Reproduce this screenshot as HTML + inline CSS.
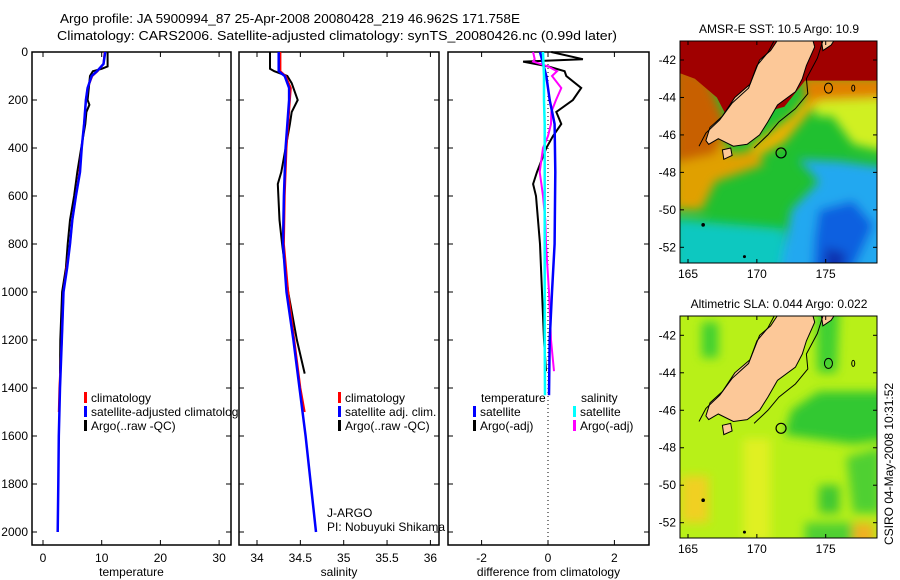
<!DOCTYPE html>
<html><head><meta charset="utf-8"><style>
html,body{margin:0;padding:0;background:#fff;}
svg{display:block;font-family:"Liberation Sans",sans-serif;}
</style></head><body>
<svg id="fig" width="900" height="580" viewBox="0 0 900 580">
<text x="290" y="23" font-size="13" text-anchor="middle" textLength="460" lengthAdjust="spacingAndGlyphs">Argo profile: JA 5900994_87 25-Apr-2008 20080428_219 46.962S 171.758E</text>
<text x="337" y="40" font-size="13" text-anchor="middle" textLength="560" lengthAdjust="spacingAndGlyphs">Climatology: CARS2006. Satellite-adjusted climatology: synTS_20080426.nc (0.99d later)</text>
<g id="p1"></g>
<g id="p2"></g>
<g id="p3"></g>
<g id="m1"></g>
<g id="m2"></g>
<text transform="translate(893,545) rotate(-90)" font-size="12">CSIRO 04-May-2008 10:31:52</text>
</svg>
<script>
// ---- data ----
const tClimDepth=[0,50,80,100,150,200,300,400,500,600,700,800,900,1000,1200,1400,1500];
const tClim=[10.5,10.3,9.3,8.4,7.6,7.3,7.0,6.6,6.2,5.6,5.0,4.6,4.0,3.5,3.2,2.8,2.7];
const tSatDepth=[0,50,80,100,150,200,300,400,500,600,700,800,900,1000,1200,1400,1600,1800,2000];
const tSat=[10.6,10.3,9.2,8.3,7.6,7.3,7.0,6.6,6.3,5.6,5.0,4.6,4.1,3.5,3.2,2.9,2.7,2.6,2.5];
const tArgoDepth=[0,60,70,80,100,150,200,220,250,300,400,500,600,700,800,900,1000,1100,1200,1340];
const tArgo=[11.0,11.0,10.0,8.5,8.0,7.8,7.6,7.9,7.4,7.2,6.5,5.85,5.3,4.6,4.2,3.9,3.25,3.1,2.95,2.9];
const sClimDepth=[0,80,100,150,200,400,600,800,1000,1200,1400,1500];
const sClim=[34.27,34.27,34.33,34.39,34.38,34.34,34.32,34.31,34.36,34.43,34.50,34.55];
const sSatDepth=[0,80,100,150,200,400,600,800,1000,1200,1400,1600,1800,2000];
const sSat=[34.25,34.25,34.32,34.37,34.37,34.33,34.31,34.30,34.34,34.42,34.49,34.56,34.62,34.68];
const sArgoDepth=[0,70,80,100,130,200,250,300,400,500,550,700,800,1000,1200,1340];
const sArgo=[34.15,34.15,34.2,34.35,34.4,34.47,34.4,34.38,34.33,34.28,34.24,34.26,34.29,34.36,34.46,34.55];
const dDepth=[0,30,40,60,80,100,150,200,250,300,350,400,500,550,600,700,800,1000,1200,1330];
const dTempArgo=[0.1,1.05,-0.75,0,0.5,0.55,1.0,0.75,0.25,0.4,0.15,-0.05,-0.33,-0.45,-0.36,-0.3,-0.24,-0.18,-0.12,-0.06];
const dSalArgo=[-0.45,-0.4,-0.45,0,0.27,0.12,0.4,0.24,0.1,0.09,0.0,-0.15,-0.25,-0.2,-0.15,-0.08,-0.06,0.03,0.09,0.18];
const dSatDepth=[0,100,200,300,500,800,1000,1200,1430];
const dTempSat=[-0.24,-0.05,0.05,0.2,0.22,0.2,0.12,0.05,0.03];
const dSalSat=[-0.15,-0.12,-0.12,-0.1,-0.1,-0.1,-0.1,-0.1,-0.09];
const depthTicks=[0,200,400,600,800,1000,1200,1400,1600,1800,2000];
const tTicks=[0,10,20,30];
const sTicks=[34,34.5,35,35.5,36];
const dTicks=[-2,0,2];
const latTicks=[-42,-44,-46,-48,-50,-52];
const lonTicks=[165,170,175];

const NS='http://www.w3.org/2000/svg';
function mk(parent,tag,attrs,name,text){const e=document.createElementNS(NS,tag);for(const k in attrs)e.setAttribute(k,attrs[k]);


if(text!==undefined)e.textContent=text;parent.appendChild(e);return e;}
const yD=d=>52+d*0.24;
function panel(g,x0,x1,xs,ticks,label,showY){
  mk(g,'rect',{x:x0,y:52,width:x1-x0,height:493,fill:'#fff',stroke:'#000','stroke-width':1.5},'panel-frame');
  ticks.forEach(t=>{const x=xs(t);
    mk(g,'line',{x1:x,x2:x,y1:545,y2:540,stroke:'#000'},'x-tick');
    mk(g,'line',{x1:x,x2:x,y1:52,y2:57,stroke:'#000'},'x-tick');
    mk(g,'text',{x:x,y:562,'font-size':12,'text-anchor':'middle'},'x-tick-label',String(t));});
  depthTicks.forEach(d=>{const y=yD(d);
    mk(g,'line',{x1:x0,x2:x0+5,y1:y,y2:y,stroke:'#000'},'y-tick');
    mk(g,'line',{x1:x1,x2:x1-5,y1:y,y2:y,stroke:'#000'},'y-tick');
    if(showY)mk(g,'text',{x:28,y:y+4,'font-size':12,'text-anchor':'end'},'y-tick-label',String(d));});
  mk(g,'text',{x:(x0+x1)/2,y:576,'font-size':12,'text-anchor':'middle'},'x-axis-title',label);
}
function line(g,xs,vals,depths,color,w,name){
  const pts=vals.map((v,i)=>xs(v).toFixed(1)+','+yD(depths[i]).toFixed(1)).join(' ');
  mk(g,'polyline',{points:pts,fill:'none',stroke:color,'stroke-width':w},name);
}
function legend(g,x,y,color,txt){
  mk(g,'rect',{x:x,y:y-10,width:3,height:11,fill:color},'legend-marker');
  mk(g,'text',{x:x+7,y:y,'font-size':12},'legend-label',txt);
}
// panel 1
const p1=document.getElementById('p1');
const xT=v=>43+v*5.87;
panel(p1,32,231,xT,tTicks,'temperature',true);
line(p1,xT,tArgo,tArgoDepth,'#000',2,'argo-temperature-line');
line(p1,xT,tClim,tClimDepth,'#f00',2,'climatology-temperature-line');
line(p1,xT,tSat,tSatDepth,'#00f',2.5,'satellite-temperature-line');
legend(p1,84,402,'#f00','climatology');
legend(p1,84,416,'#00f','satellite-adjusted climatology');
legend(p1,84,430,'#000','Argo(..raw -QC)');
// panel 2
const p2=document.getElementById('p2');
const xS=v=>257+(v-34)*86.7;
panel(p2,239,439,xS,sTicks,'salinity',false);
line(p2,xS,sArgo,sArgoDepth,'#000',2,'argo-salinity-line');
line(p2,xS,sClim,sClimDepth,'#f00',2,'climatology-salinity-line');
line(p2,xS,sSat,sSatDepth,'#00f',2.5,'satellite-salinity-line');
legend(p2,338,402,'#f00','climatology');
legend(p2,338,416,'#00f','satellite adj. clim.');
legend(p2,338,430,'#000','Argo(..raw -QC)');
mk(p2,'text',{x:327,y:517,'font-size':12},'float-program','J-ARGO');
mk(p2,'text',{x:327,y:531,'font-size':12},'pi-name','PI: Nobuyuki Shikama');
// panel 3
const p3=document.getElementById('p3');
const xDf=v=>548+v*33.2;
panel(p3,448,649,xDf,dTicks,'difference from climatology',false);
mk(p3,'line',{x1:548,x2:548,y1:52,y2:545,stroke:'#000','stroke-dasharray':'1,3'},'zero-line');
line(p3,xDf,dTempArgo,dDepth,'#000',2,'argo-temp-diff-line');
line(p3,xDf,dSalArgo,dDepth,'#f0f',2,'argo-sal-diff-line');
line(p3,xDf,dTempSat,dSatDepth,'#00f',2.5,'satellite-temp-diff-line');
line(p3,xDf,dSalSat,dSatDepth,'#0ff',2.5,'satellite-sal-diff-line');
mk(p3,'text',{x:481,y:402,'font-size':12},'legend-group-title','temperature');
mk(p3,'text',{x:581,y:402,'font-size':12},'legend-group-title','salinity');
legend(p3,473,416,'#00f','satellite');
legend(p3,473,430,'#000','Argo(-adj)');
legend(p3,573,416,'#0ff','satellite');
legend(p3,573,430,'#f0f','Argo(-adj)');

// ---- maps ----
function mapPanel(id,top,lat42,lat52,title,layers){
  const g=document.getElementById(id);
  const left=680,right=877,bottom=top+222;
  const X=lon=>688+(lon-165)*13.77;
  const Y=s=>lat42+(s-42)*(lat52-lat42)/10;
  const P=arr=>arr.map(p=>X(p[0]).toFixed(1)+','+Y(p[1]).toFixed(1)).join(' ');
  const cid='clip'+id;
  const defs=mk(g,'defs',{},'map-defs');
  const cp=mk(defs,'clipPath',{id:cid},'map-clip');
  mk(cp,'rect',{x:left,y:top,width:right-left,height:bottom-top},'clip-rect');
  const f=mk(defs,'filter',{id:'bl'+id,filterUnits:'userSpaceOnUse',x:left-30,y:top-30,width:260,height:290},'blur-filter');
  mk(f,'feGaussianBlur',{stdDeviation:5},'blur');
  const inner=mk(g,'g',{'clip-path':'url(#'+cid+')'},'map-field');
  mk(inner,'rect',{x:left,y:top,width:right-left,height:bottom-top,fill:layers.bg},'map-background');
  const bg=mk(inner,'g',{filter:'url(#bl'+id+')'},'field-blobs');
  layers.blobs.forEach(b=>mk(bg,'polygon',{points:P(b[1]),fill:b[0]},'field-region'));
  (layers.sharp||[]).forEach(b=>mk(inner,'polygon',{points:P(b[1]),fill:b[0]},'field-region-sharp'));
  const land=[[166.3,46.3],[166.6,45.6],[167.5,45],[168.4,44],[169.5,43.3],[170.2,42],[171,41.5],[171.9,40.5],[173.9,40.5],[174.2,41.3],[173.6,42.3],[173.3,43],[172.8,43.7],[171.5,44.4],[170.8,45.3],[170.2,46],[169.3,46.5],[168.3,46.6],[167.2,46.2],[166.5,46.5]];
  mk(inner,'polygon',{points:P(land),fill:'#fcc898',stroke:'#000','stroke-width':1},'south-island-land');
  mk(inner,'polygon',{points:P([[174.6,40.5],[176,40.5],[175.4,41.2],[174.8,41.5]]),fill:'#fcc898',stroke:'#000'},'north-island-land');
  mk(inner,'polygon',{points:P([[167.5,46.8],[168.1,46.7],[168.2,47.1],[167.6,47.3]]),fill:'#fcc898',stroke:'#000'},'stewart-island');
  const iso=[[165.8,46.6],[166.3,45.9],[167.3,45.2],[168.2,44.3],[169.4,43.5],[170,42.3],[170.8,41.6],[171.6,40.5]];
  mk(inner,'polyline',{points:P(iso),fill:'none',stroke:'#000','stroke-width':1},'bathymetry-contour');
  const iso2=[[169.8,46.7],[170.8,46.0],[171.6,45.3],[172.8,44.6],[173.7,43.8],[173.6,43.0],[174.4,41.9],[175,40.5]];
  mk(inner,'polyline',{points:P(iso2),fill:'none',stroke:'#000','stroke-width':1},'bathymetry-contour');
  mk(inner,'ellipse',{cx:X(175.2),cy:Y(43.5),rx:4,ry:5,fill:'none',stroke:'#000'},'chatham-rise-contour');
  mk(inner,'ellipse',{cx:X(177),cy:Y(43.5),rx:1.5,ry:3,fill:'none',stroke:'#000'},'contour');
  mk(inner,'circle',{cx:X(171.758),cy:Y(46.962),r:5,fill:'none',stroke:'#000','stroke-width':1.2},'argo-location-marker');
  mk(inner,'circle',{cx:X(166.1),cy:Y(50.8),r:1.8,fill:'#000'},'auckland-island');
  mk(inner,'circle',{cx:X(169.1),cy:Y(52.5),r:1.5,fill:'#000'},'campbell-island');
  mk(g,'rect',{x:left,y:top,width:right-left,height:bottom-top,fill:'none',stroke:'#000'},'map-frame');
  latTicks.forEach(l=>{const y=Y(-l);
    mk(g,'line',{x1:left,x2:left+4,y1:y,y2:y,stroke:'#000'},'lat-tick');
    mk(g,'line',{x1:right,x2:right-4,y1:y,y2:y,stroke:'#000'},'lat-tick');
    mk(g,'text',{x:676,y:y+4,'font-size':12,'text-anchor':'end'},'lat-tick-label',String(l));});
  lonTicks.forEach(l=>{const x=X(l);
    mk(g,'line',{x1:x,x2:x,y1:bottom,y2:bottom-4,stroke:'#000'},'lon-tick');
    mk(g,'line',{x1:x,x2:x,y1:top,y2:top+4,stroke:'#000'},'lon-tick');
    mk(g,'text',{x:x,y:bottom+15,'font-size':12,'text-anchor':'middle'},'lon-tick-label',String(l));});
  mk(g,'text',{x:779,y:top-8,'font-size':12,'text-anchor':'middle'},'map-title',title);
}
mapPanel('m1',41,60,247.3,'AMSR-E SST: 10.5 Argo: 10.9',{bg:'#20c030',
 blobs:[
  ['#10c8c0',[[164,50.5],[172,51],[172,54],[164,54]]],
  ['#20a8f0',[[173,47.3],[176,47.4],[180,47.8],[180,54],[171.5,54],[172.5,50],[174.5,48.5]]],
  ['#1060e0',[[174.5,50],[177,49.5],[178.5,50.8],[176.5,54],[174,54],[174.2,51.5]]],
  ['#0830b0',[[175,52],[176.5,52.3],[176,54],[174.8,54]]],
  ['#d0f020',[[174,43.8],[180,43.8],[180,47],[177,46.5],[175.5,45],[174.3,45]]],
  ['#e0a000',[[164,45],[167,45],[168,47],[170,46.8],[170.5,47.6],[167,48.5],[166,50],[164,50]]],
  ['#c86000',[[164,42],[166.5,43],[167.8,45.5],[167,47],[164,47.5]]],
  ['#f0b000',[[169.5,46.6],[172.5,45.0],[174,43.6],[174.5,44.2],[172,46.4],[170,47.2]]],
  ['#e08000',[[173.2,42.9],[180,42.9],[180,44],[173.6,44.2]]]
 ],
 sharp:[['#a00000',[[164,40],[180,40],[180,43.1],[173.5,43.1],[172,44.5],[168,45.3],[167.8,45],[167.1,44],[165.5,43],[164,42.6]]]]
});
mapPanel('m2',316,335.3,522.7,'Altimetric SLA: 0.044 Argo: 0.022',{bg:'#b8f018',
 blobs:[
  ['#40d030',[[166,41.3],[167.2,41.3],[167.2,43.2],[166,43.2]]],
  ['#40d030',[[174.3,40.5],[176,40.5],[175.8,44],[174.4,44]]],
  ['#30c830',[[174.5,45],[180,45],[180,47.5],[177,47.8],[174,47.5],[172,47.3],[172.5,46]]],
  ['#50d030',[[176.5,48.5],[179,48],[179,51.5],[177,51.5]]],
  ['#40c830',[[174.5,50],[176,50],[176,51.5],[174.5,51.5]]],
  ['#50d030',[[173.5,52],[177,52],[177,54],[173.5,54]]],
  ['#f0d020',[[164.5,49.5],[166.5,49.5],[166.5,52],[164.5,52]]],
  ['#f0b020',[[177,52],[178.5,52],[178.5,54],[177,54]]],
  ['#e0f020',[[169,47.5],[171,47.5],[171,53],[169,53]]]
 ]});
</script>
</body></html>
